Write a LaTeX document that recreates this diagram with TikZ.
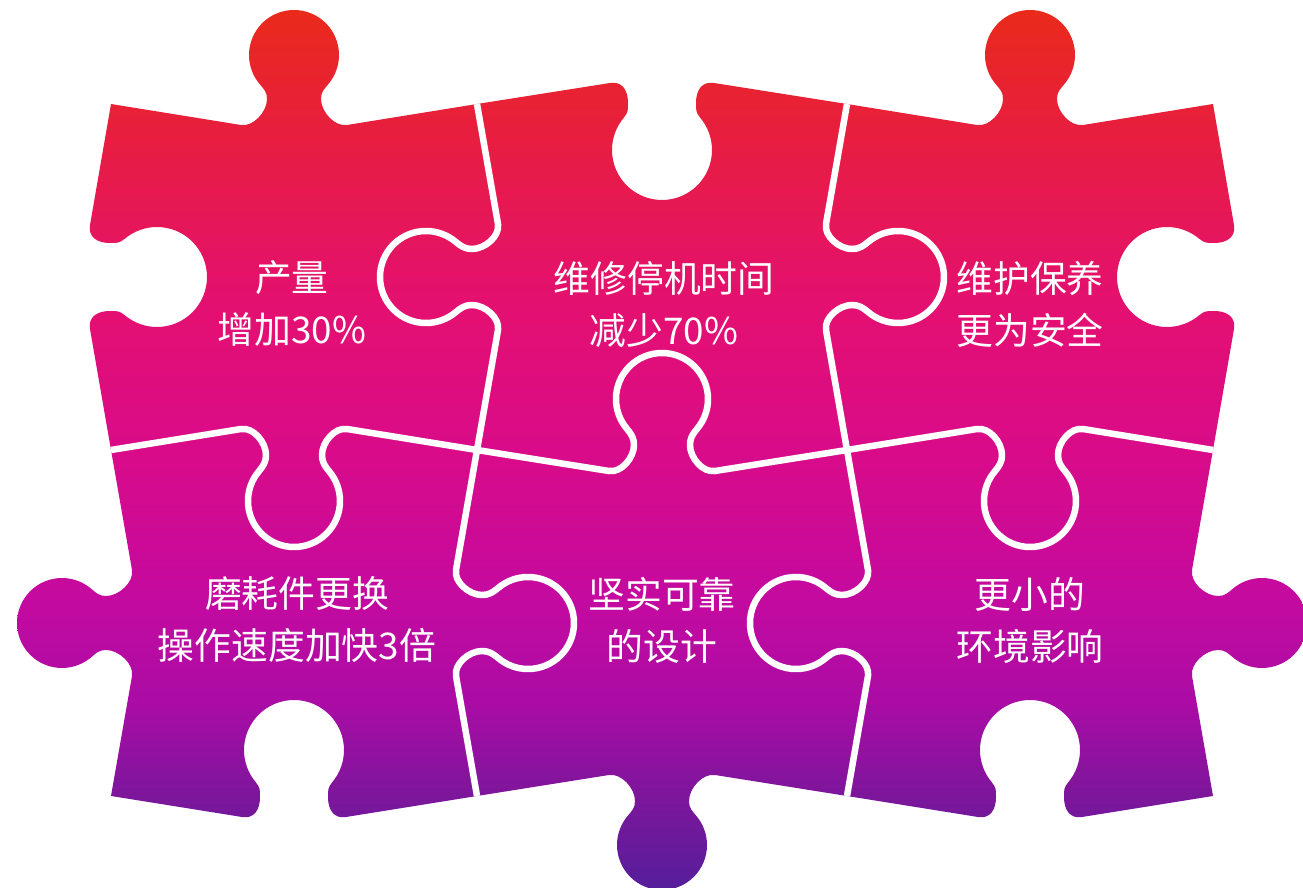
\documentclass[tikz,border=0pt]{standalone}
\usepackage{fontspec}
\newfontfamily\cjk{Noto Sans CJK SC}

\definecolor{c10}{RGB}{233,42,27}
\definecolor{c130}{RGB}{232,30,62}
\definecolor{c300}{RGB}{228,16,112}
\definecolor{c450}{RGB}{217,11,137}
\definecolor{c600}{RGB}{195,10,160}
\definecolor{c700}{RGB}{170,12,165}
\definecolor{c790}{RGB}{125,22,155}
\definecolor{c885}{RGB}{85,30,155}

\pgfdeclareverticalshading{puzzleshade}{100bp}{color(0bp)=(c885); color(25bp)=(c885); color(30.4bp)=(c790); color(35.6bp)=(c700); color(41.3bp)=(c600); color(49.9bp)=(c450); color(58.4bp)=(c300); color(68.1bp)=(c130); color(75bp)=(c10); color(100bp)=(c10)}

% tab sizes: shoulder, shoulder depth, neck, neck height, centre, radius
\newcommand\knobdims{\gdef\tbS{53}\gdef\tbD{21}\gdef\tbW{27}\gdef\tbN{5}\gdef\tbC{49}\gdef\tbR{45}}
\newcommand\seamdims{\gdef\tbS{53}\gdef\tbD{21}\gdef\tbW{28}\gdef\tbN{5}\gdef\tbC{51}\gdef\tbR{46}}
\newcommand\holedims{\gdef\tbS{52}\gdef\tbD{21}\gdef\tbW{34}\gdef\tbN{-1}\gdef\tbC{46}\gdef\tbR{50}}

% point: u along the edge, v towards the tab
\def\tabpt#1,#2\relax{%
  \pgfmathsetmacro\tbx{\Mx+(#1)*(\Dx)+(#2)*(\Nx)}%
  \pgfmathsetmacro\tby{\My+(#1)*(\Dy)+(#2)*(\Ny)}%
  \pgfpointxy{\tbx}{\tby}}
\tikzdeclarecoordinatesystem{tab}{\tabpt#1\relax}

% one edge: middle, direction, tab side, end corner, sizes
\newcommand\tab[9]{\pgfextra{\gdef\Mx{#1}\gdef\My{#2}\gdef\Dx{#3}\gdef\Dy{#4}\gdef\Nx{#5}\gdef\Ny{#6}#9}
  -- (tab cs:-\tbS,-\tbD)
  .. controls (tab cs:-\tbS+12,-\tbD-2) and (tab cs:-\tbW,\tbN-13) .. (tab cs:-\tbW,\tbN)
  .. controls (tab cs:-\tbW,\tbN+7) and (tab cs:-0.766*\tbR+4.5,\tbC-0.643*\tbR-5.4) .. (tab cs:-0.766*\tbR,\tbC-0.643*\tbR)
  .. controls (tab cs:-0.9172*\tbR,\tbC-0.4629*\tbR) and (tab cs:-\tbR,\tbC-0.2351*\tbR) .. (tab cs:-\tbR,\tbC)
  .. controls (tab cs:-\tbR,\tbC+0.5523*\tbR) and (tab cs:-0.5523*\tbR,\tbC+\tbR) .. (tab cs:0,\tbC+\tbR)
  .. controls (tab cs:0.5523*\tbR,\tbC+\tbR) and (tab cs:\tbR,\tbC+0.5523*\tbR) .. (tab cs:\tbR,\tbC)
  .. controls (tab cs:\tbR,\tbC-0.2351*\tbR) and (tab cs:0.9172*\tbR,\tbC-0.4629*\tbR) .. (tab cs:0.766*\tbR,\tbC-0.643*\tbR)
  .. controls (tab cs:0.766*\tbR-4.5,\tbC-0.643*\tbR-5.4) and (tab cs:\tbW,\tbN+7) .. (tab cs:\tbW,\tbN)
  .. controls (tab cs:\tbW,\tbN-13) and (tab cs:\tbS-12,-\tbD-2) .. (tab cs:\tbS,-\tbD)
  -- (#7,#8)}

\begin{document}
\begin{tikzpicture}[x=0.5pt,y=-0.5pt]
	\tikzstyle{seam}=[draw=white,line width=3.25pt,line join=round]
	\tikzstyle{piecetext}=[text=white,align=center,font=\cjk\fontsize{18.4}{26}\selectfont]

	\useasboundingbox (0,0) rectangle (1303,888);
	\clip (0,0) rectangle (1303,888);

	% outline of the six pieces
	\shade[shading=puzzleshade] (111,104)
		\tab{294}{104}{1}{0}{0}{-1}{477}{104}{\knobdims}
		\tab{662}{104}{1}{0}{0}{1}{847}{104}{\holedims}
		\tab{1030}{104}{1}{0}{0}{-1}{1213}{104}{\knobdims}
		\tab{1213}{277}{0}{1}{-1}{0}{1213}{450}{\holedims}
		\tab{1213}{623}{0}{1}{1}{0}{1213}{796}{\knobdims}
		\tab{1030}{796}{-1}{0}{0}{-1}{847}{796}{\holedims}
		\tab{662}{796}{-1}{0}{0}{1}{477}{796}{\knobdims}
		\tab{294}{796}{-1}{0}{0}{-1}{111}{796}{\holedims}
		\tab{111}{623}{0}{-1}{-1}{0}{111}{450}{\knobdims}
		\tab{111}{277}{0}{-1}{1}{0}{111}{104}{\holedims}
		-- cycle;

	% seams
	\draw[seam] (111,450)
		\tab{294}{450}{1}{0}{0}{1}{477}{450}{\seamdims}
		\tab{662}{450}{1}{0}{0}{-1}{847}{450}{\seamdims}
		\tab{1030}{450}{1}{0}{0}{1}{1213}{450}{\seamdims};
	\draw[seam] (477,104)
		\tab{477}{277}{0}{1}{-1}{0}{477}{450}{\seamdims}
		\tab{477}{623}{0}{1}{1}{0}{477}{796}{\seamdims};
	\draw[seam] (847,104)
		\tab{847}{277}{0}{1}{1}{0}{847}{450}{\seamdims}
		\tab{847}{623}{0}{1}{-1}{0}{847}{796}{\seamdims};

	\node[piecetext] (p1) at (292,304) {产量\\增加30\%};
	\node[piecetext] (p2) at (664,304) {维修停机时间\\减少70\%};
	\node[piecetext] (p3) at (1030,304) {维护保养\\更为安全};
	\node[piecetext] (p4) at (297,620) {磨耗件更换\\操作速度加快3倍};
	\node[piecetext] (p5) at (662,620) {坚实可靠\\的设计};
	\node[piecetext] (p6) at (1030,620) {更小的\\环境影响};

\end{tikzpicture}
\end{document}
